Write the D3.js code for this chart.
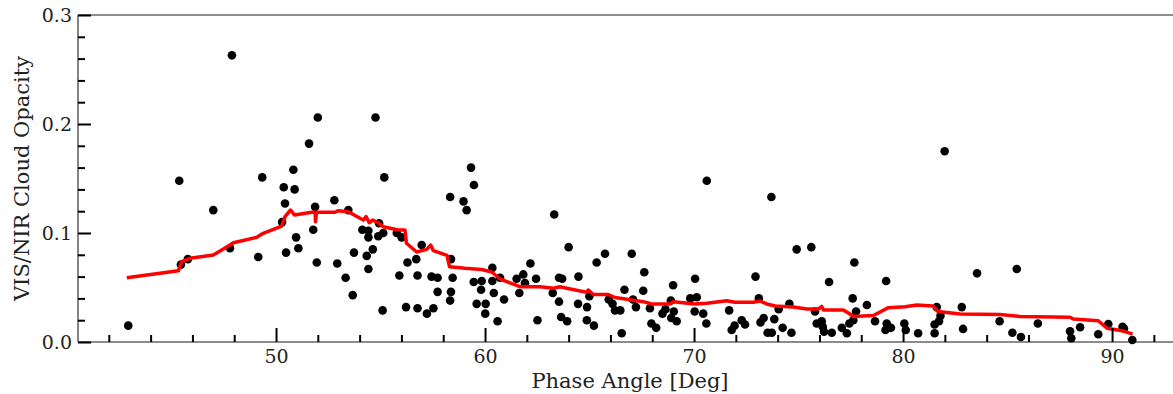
<!DOCTYPE html>
<html><head><meta charset="utf-8">
<script src="https://cdn.jsdelivr.net/npm/d3@7"></script>
<style>html,body{margin:0;padding:0;background:#fff;overflow:hidden}</style>
</head><body><svg id="chart" width="1173" height="394"></svg>
<script>
// ---- data ----
const phaseAngle = [
 42.93,45.37,45.45,45.78,47.00,47.80,47.89,49.15,49.34,50.29,
 50.37,50.43,50.48,50.83,50.89,50.96,51.07,51.58,51.78,51.87,
 51.95,52.00,52.79,52.93,53.33,53.46,53.67,53.73,54.13,54.34,
 54.42,54.42,54.42,54.63,54.76,54.89,54.93,55.10,55.13,55.18,
 55.78,55.90,56.01,56.22,56.29,56.71,56.77,56.77,56.97,57.22,
 57.44,57.53,57.73,57.73,58.33,58.33,58.37,58.37,58.45,58.97,
 59.12,59.33,59.47,59.46,59.60,59.81,59.84,60.03,60.01,60.35,
 60.35,60.42,60.60,60.72,60.91,61.51,61.64,61.83,61.91,62.17,
 62.44,62.51,63.31,63.24,63.54,63.69,63.54,63.64,63.93,64.00,
 64.47,64.45,64.88,64.87,65.21,64.99,65.34,65.74,65.92,66.10,
 66.22,66.47,66.67,66.54,67.02,67.08,67.22,67.62,67.57,67.89,
 67.96,68.19,68.49,68.63,68.89,69.00,68.91,69.17,69.03,69.82,
 70.05,70.13,70.03,70.44,70.59,70.61,71.68,71.80,71.94,72.28,
 72.44,72.94,73.10,73.18,73.33,73.52,73.72,73.70,73.84,74.05,
 74.24,74.56,74.66,74.91,75.61,75.79,75.87,76.11,76.16,76.22,
 76.59,76.46,77.07,77.31,77.43,77.59,77.67,77.75,77.62,78.27,
 78.66,79.19,79.22,79.16,79.42,80.06,80.13,80.72,81.51,81.51,
 81.61,81.72,81.79,81.99,82.81,82.87,83.54,84.62,85.23,85.44,
 85.64,86.45,87.99,88.05,88.47,89.34,89.82,90.50,90.57,90.97
];
const cloudOpacity = [
 0.015,0.148,0.071,0.076,0.121,0.086,0.263,0.078,0.151,0.110,
 0.142,0.127,0.082,0.158,0.140,0.096,0.086,0.182,0.103,0.124,
 0.073,0.206,0.130,0.072,0.059,0.121,0.043,0.082,0.103,0.079,
 0.102,0.096,0.067,0.085,0.206,0.097,0.109,0.029,0.100,0.151,
 0.100,0.061,0.096,0.032,0.073,0.076,0.061,0.031,0.089,0.026,
 0.060,0.031,0.059,0.046,0.133,0.038,0.076,0.046,0.059,0.129,
 0.121,0.160,0.144,0.055,0.035,0.048,0.056,0.035,0.026,0.068,
 0.056,0.045,0.019,0.059,0.039,0.058,0.045,0.062,0.054,0.072,
 0.058,0.020,0.117,0.045,0.059,0.058,0.037,0.023,0.019,0.087,
 0.060,0.035,0.032,0.020,0.015,0.042,0.073,0.081,0.039,0.035,
 0.029,0.029,0.048,0.008,0.081,0.039,0.032,0.064,0.047,0.031,
 0.017,0.013,0.026,0.030,0.038,0.052,0.022,0.019,0.028,0.040,
 0.058,0.041,0.028,0.026,0.017,0.148,0.029,0.011,0.015,0.020,
 0.016,0.060,0.040,0.018,0.022,0.0085,0.0085,0.133,0.021,0.030,
 0.013,0.035,0.0085,0.085,0.087,0.028,0.017,0.019,0.014,0.0094,
 0.0085,0.055,0.013,0.008,0.017,0.040,0.073,0.028,0.020,0.034,
 0.019,0.056,0.017,0.011,0.013,0.017,0.011,0.008,0.016,0.008,
 0.032,0.019,0.024,0.175,0.032,0.012,0.063,0.019,0.0085,0.067,
 0.0046,0.017,0.0098,0.0034,0.0135,0.0071,0.0165,0.014,0.0124,0.0018
];
// running trend (red line)
const trendAngle = [
 42.86,45.33,45.49,45.89,47.00,47.80,47.96,49.08,49.39,50.27,
 50.43,50.70,50.88,51.71,51.87,51.89,51.94,52.82,52.98,53.46,
 54.02,54.18,54.31,54.46,54.63,54.89,55.13,55.85,56.17,56.24,
 56.73,57.21,57.40,57.53,58.18,58.30,59.04,59.84,60.32,60.72,
 61.67,62.63,63.27,63.59,63.91,64.55,64.87,64.94,65.18,65.90,
 66.22,66.78,67.57,67.98,68.85,69.01,70.05,70.61,71.56,71.96,
 72.84,73.16,73.48,73.88,74.75,75.39,75.95,76.11,76.19,77.14,
 77.46,77.62,78.58,79.30,80.10,80.66,81.44,81.67,82.73,84.64,
 85.60,87.99,88.15,89.34,89.76,90.48,90.98
];
const trendOpacity = [
 0.0590,0.0654,0.0737,0.0768,0.0798,0.0890,0.0911,0.0961,0.0997,0.1064,
 0.1150,0.1211,0.1165,0.1190,0.1190,0.1104,0.1190,0.1190,0.1205,0.1195,
 0.1135,0.1119,0.1150,0.1094,0.1119,0.1094,0.1058,0.1028,0.1028,0.0906,
 0.0826,0.0850,0.0890,0.0838,0.0794,0.0691,0.0676,0.0665,0.0642,0.0578,
 0.0507,0.0507,0.0493,0.0507,0.0493,0.0468,0.0456,0.0477,0.0436,0.0436,
 0.0408,0.0392,0.0370,0.0349,0.0349,0.0370,0.0349,0.0355,0.0379,0.0364,
 0.0364,0.0376,0.0349,0.0330,0.0321,0.0303,0.0303,0.0326,0.0294,0.0294,
 0.0257,0.0234,0.0243,0.0315,0.0324,0.0339,0.0330,0.0280,0.0257,0.0252,
 0.0234,0.0227,0.0211,0.0195,0.0126,0.0104,0.0073
];
const xMajorTicks = [50, 60, 70, 80, 90];
const xMinorTicks = [42, 44, 46, 48, 52, 54, 56, 58, 62, 64, 66, 68, 72, 74, 76, 78, 82, 84, 86, 88, 92];
const yMajorTicks = [0.0, 0.1, 0.2, 0.3];
const yMinorTicks = [0.02, 0.04, 0.06, 0.08, 0.12, 0.14, 0.16, 0.18, 0.22, 0.24, 0.26, 0.28];
const xLabel = "Phase Angle [Deg]";
const yLabel = "VIS/NIR Cloud Opacity";

if (phaseAngle.length !== cloudOpacity.length) throw new Error("scatter length mismatch " + phaseAngle.length + " vs " + cloudOpacity.length);
if (trendAngle.length !== trendOpacity.length) throw new Error("trend length mismatch");

// ---- layout ----
const L = 78, T = 15, B = 342, R = 1180;
const FONT = "'DejaVu Serif', serif";
const svg = d3.select("#chart");

const x = d3.scaleLinear().domain([40.526, 93.25]).range([L, R]);
const y = d3.scaleLinear().domain([0, 0.3]).range([B, T]);

// spines
const spine = svg.append("g").attr("stroke", "#666").attr("stroke-width", 1.6).attr("fill", "none");
spine.append("line").attr("x1", L).attr("x2", R).attr("y1", T).attr("y2", T);
spine.append("line").attr("x1", L).attr("x2", R).attr("y1", B).attr("y2", B);
spine.append("line").attr("x1", L).attr("x2", L).attr("y1", T).attr("y2", B);
spine.append("line").attr("x1", R).attr("x2", R).attr("y1", T).attr("y2", B);

// scatter
const pts = phaseAngle.map((a, i) => ({a, v: cloudOpacity[i]}));
svg.append("g").selectAll("circle").data(pts).join("circle")
  .attr("cx", d => x(d.a)).attr("cy", d => y(d.v)).attr("r", 4.3).attr("fill", "#000");

// trend line
const trend = trendAngle.map((a, i) => ({a, v: trendOpacity[i]}));
svg.append("path").datum(trend)
  .attr("fill", "none").attr("stroke", "#ff0000").attr("stroke-width", 3.5)
  .attr("stroke-linejoin", "round").attr("stroke-linecap", "butt")
  .attr("d", d3.line().x(d => x(d.a)).y(d => y(d.v)));

// axes
function styleAxis(g) {
  g.select(".domain").remove();
  g.selectAll(".tick line").attr("stroke", "#000").attr("stroke-width", 2);
  g.selectAll(".tick text").attr("fill", "#222").style("font-family", FONT).style("font-size", "19px");
}
svg.append("g").attr("transform", `translate(0,${B})`)
  .call(d3.axisBottom(x).tickValues(xMajorTicks).tickSize(-14).tickPadding(8).tickFormat(d3.format("d")))
  .call(styleAxis);
svg.append("g").attr("transform", `translate(0,${B})`)
  .call(d3.axisBottom(x).tickValues(xMinorTicks).tickSize(-7).tickFormat(""))
  .call(styleAxis);
svg.append("g").attr("transform", `translate(${L},0)`)
  .call(d3.axisLeft(y).tickValues(yMajorTicks).tickSize(-13).tickPadding(6).tickFormat(d3.format(".1f")))
  .call(styleAxis);
svg.append("g").attr("transform", `translate(${L},0)`)
  .call(d3.axisLeft(y).tickValues(yMinorTicks).tickSize(-7).tickFormat(""))
  .call(styleAxis);

// axis labels
svg.append("text").attr("x", 630).attr("y", 388).attr("text-anchor", "middle")
  .attr("fill", "#222").style("font-family", FONT).style("font-size", "21px").text(xLabel);
svg.append("text").attr("transform", `translate(28.5,${(T + B) / 2}) rotate(-90)`).attr("text-anchor", "middle")
  .attr("fill", "#222").style("font-family", FONT).style("font-size", "21px").text(yLabel);
</script></body></html>
